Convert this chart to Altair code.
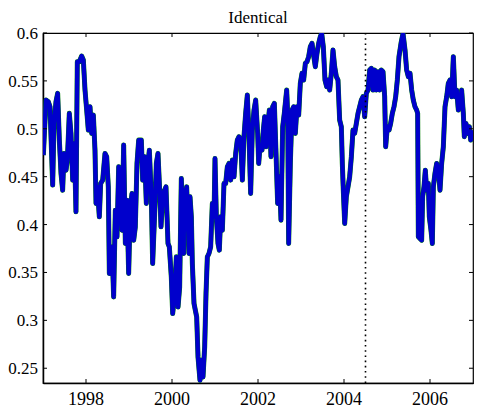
import altair as alt
import pandas as pd

title_text = "Identical"

years = [
    1997.008, 1997.070, 1997.124, 1997.163, 1997.225, 1997.256, 1997.302, 1997.341, 1997.380, 1997.419,
    1997.457, 1997.488, 1997.535, 1997.566, 1997.612, 1997.651, 1997.690, 1997.729, 1997.767, 1997.798,
    1997.845, 1997.899, 1997.938, 1997.977, 1998.016, 1998.054, 1998.093, 1998.132, 1998.171, 1998.209,
    1998.233, 1998.264, 1998.310, 1998.341, 1998.388, 1998.442, 1998.481, 1998.519, 1998.543, 1998.574,
    1998.605, 1998.643, 1998.682, 1998.721, 1998.760, 1998.798, 1998.837, 1998.876, 1998.915, 1998.953,
    1998.992, 1999.031, 1999.070, 1999.109, 1999.147, 1999.186, 1999.225, 1999.287, 1999.318, 1999.364,
    1999.403, 1999.442, 1999.473, 1999.519, 1999.550, 1999.597, 1999.636, 1999.674, 1999.713, 1999.744,
    1999.791, 1999.829, 1999.860, 1999.907, 1999.938, 1999.984, 2000.016, 2000.062, 2000.101, 2000.140,
    2000.178, 2000.217, 2000.248, 2000.271, 2000.279, 2000.318, 2000.341, 2000.372, 2000.395, 2000.419,
    2000.450, 2000.473, 2000.512, 2000.574, 2000.605, 2000.651, 2000.682, 2000.721, 2000.760, 2000.791,
    2000.822, 2000.860, 2000.899, 2000.938, 2000.977, 2001.000, 2001.031, 2001.070, 2001.101, 2001.132,
    2001.171, 2001.209, 2001.248, 2001.287, 2001.326, 2001.364, 2001.403, 2001.442, 2001.481, 2001.519,
    2001.558, 2001.597, 2001.636, 2001.674, 2001.713, 2001.752, 2001.791, 2001.829, 2001.868, 2001.907,
    2001.946, 2001.992, 2002.016, 2002.047, 2002.093, 2002.124, 2002.155, 2002.186, 2002.225, 2002.264,
    2002.302, 2002.341, 2002.380, 2002.419, 2002.457, 2002.496, 2002.535, 2002.574, 2002.612, 2002.667,
    2002.690, 2002.713, 2002.752, 2002.791, 2002.829, 2002.868, 2002.907, 2002.946, 2002.984, 2003.023,
    2003.062, 2003.101, 2003.140, 2003.178, 2003.217, 2003.256, 2003.287, 2003.333, 2003.372, 2003.411,
    2003.450, 2003.481, 2003.519, 2003.558, 2003.597, 2003.628, 2003.667, 2003.705, 2003.744, 2003.783,
    2003.822, 2003.860, 2003.899, 2003.938, 2003.961, 2003.984, 2004.016, 2004.054, 2004.093, 2004.132,
    2004.171, 2004.209, 2004.248, 2004.287, 2004.326, 2004.364, 2004.403, 2004.442, 2004.481, 2004.519,
    2004.558, 2004.597, 2004.636, 2004.674, 2004.713, 2004.752, 2004.791, 2004.829, 2004.868, 2004.907,
    2004.946, 2004.969, 2005.008, 2005.047, 2005.085, 2005.124, 2005.163, 2005.202, 2005.240, 2005.279,
    2005.326, 2005.372, 2005.419, 2005.457, 2005.496, 2005.535, 2005.574, 2005.612, 2005.651, 2005.690,
    2005.713, 2005.729, 2005.767, 2005.806, 2005.829, 2005.860, 2005.891, 2005.922, 2005.961, 2005.984,
    2006.023, 2006.054, 2006.078, 2006.116, 2006.155, 2006.194, 2006.233, 2006.271, 2006.310, 2006.349,
    2006.388, 2006.426, 2006.465, 2006.504, 2006.543, 2006.581, 2006.620, 2006.659, 2006.698, 2006.736,
    2006.775, 2006.798, 2006.837, 2006.876, 2006.915, 2006.946, 2006.984, 2007.000,
]

values = [
    0.4725, 0.5300, 0.5282, 0.5230, 0.4412, 0.5056, 0.5282, 0.5370, 0.4882, 0.4534,
    0.4359, 0.4743, 0.4568, 0.4673, 0.5161, 0.4952, 0.4464, 0.4847, 0.4133, 0.5700,
    0.5700, 0.5760, 0.5718, 0.5404, 0.5195, 0.4986, 0.5230, 0.4952, 0.5143, 0.4777,
    0.4220, 0.4394, 0.4081, 0.4429, 0.4464, 0.4743, 0.4708, 0.4394, 0.3489, 0.3767,
    0.3767, 0.3245, 0.4150, 0.3872, 0.4603, 0.4290, 0.3941, 0.4830, 0.3802, 0.4255,
    0.3489, 0.4185, 0.4325, 0.3837, 0.3976, 0.4638, 0.4882, 0.4882, 0.4464, 0.4708,
    0.4220, 0.4638, 0.4777, 0.4290, 0.3593, 0.4116, 0.4638, 0.4743, 0.4359, 0.3976,
    0.4325, 0.4359, 0.4394, 0.3802, 0.3767, 0.3454, 0.3071, 0.3280, 0.3663, 0.3140,
    0.3349, 0.4481, 0.4081, 0.3698, 0.4359, 0.4081, 0.4394, 0.4011, 0.3698, 0.4290,
    0.4081, 0.3593, 0.3175, 0.3036, 0.2618, 0.2374, 0.2583, 0.2409, 0.2722, 0.3280,
    0.3663, 0.3698, 0.3767, 0.4220, 0.4081, 0.4690, 0.4081, 0.3802, 0.3733, 0.4081,
    0.3941, 0.4429, 0.4429, 0.4603, 0.4638, 0.4464, 0.4673, 0.4499, 0.4743, 0.4882,
    0.4917, 0.4882, 0.4464, 0.4917, 0.5161, 0.5352, 0.4917, 0.4325, 0.4986, 0.5195,
    0.5300, 0.4952, 0.4638, 0.4812, 0.4777, 0.4986, 0.5126, 0.4812, 0.5021, 0.5195,
    0.4708, 0.5230, 0.5265, 0.4743, 0.4220, 0.4499, 0.4046, 0.5021, 0.5161, 0.5404,
    0.5161, 0.3802, 0.4638, 0.5195, 0.5230, 0.4952, 0.5230, 0.5143, 0.5474, 0.5579,
    0.5509, 0.5683, 0.5700, 0.5753, 0.5857, 0.5892, 0.5788, 0.5648, 0.5788, 0.5892,
    0.5962, 0.5997, 0.5857, 0.5509, 0.5439, 0.5509, 0.5404, 0.5579, 0.5822, 0.5648,
    0.5544, 0.5509, 0.5091, 0.5021, 0.4638, 0.4359, 0.4011, 0.4290, 0.4394, 0.4499,
    0.4708, 0.4986, 0.4952, 0.5056, 0.5161, 0.5230, 0.5300, 0.5335, 0.5126, 0.5370,
    0.5404, 0.5613, 0.5631, 0.5404, 0.5613, 0.5404, 0.5596, 0.5404, 0.5613, 0.5596,
    0.5335, 0.4812, 0.5021, 0.4986, 0.5056, 0.5161, 0.5230, 0.5335, 0.5509, 0.5753,
    0.5892, 0.5997, 0.5822, 0.5613, 0.5544, 0.5579, 0.5404, 0.5300, 0.5230, 0.5195,
    0.5161, 0.3872, 0.3854, 0.3837, 0.4290, 0.4394, 0.4568, 0.4359, 0.4429, 0.4081,
    0.3941, 0.3802, 0.4394, 0.4534, 0.4638, 0.4568, 0.4359, 0.4638, 0.4812, 0.5230,
    0.5335, 0.5474, 0.5509, 0.5335, 0.5753, 0.5335, 0.5404, 0.5195, 0.5230, 0.5404,
    0.5161, 0.4917, 0.5056, 0.4952, 0.5021, 0.4882, 0.4917, 0.4986,
]

x_ticks = [1998, 2000, 2002, 2004, 2006]
y_ticks = [0.25, 0.3, 0.35, 0.4, 0.45, 0.5, 0.55, 0.6]
marker_year = [2004.5]

W, H = 430, 350
FONT = "Times New Roman, Liberation Serif, DejaVu Serif, serif"

df = pd.DataFrame({"year": years, "value": values})
xs = alt.Scale(domain=[1997, 2007], nice=False, zero=False)
ys = alt.Scale(domain=[0.2346, 0.6], nice=False, zero=False)
xaxis = alt.Axis(values=x_ticks, labels=False, ticks=False, grid=False,
                 domainColor="black", domainWidth=1.5)
yaxis = alt.Axis(values=y_ticks, labels=False, ticks=False, grid=False,
                 domainColor="black", domainWidth=1.5)

def X(field):
    return alt.X(f"{field}:Q", scale=xs, axis=xaxis, title=None)

def Y(field):
    return alt.Y(f"{field}:Q", scale=ys, axis=yaxis, title=None)

green = alt.Chart(df).mark_line(color="#008000", strokeWidth=5, clip=True,
                                strokeJoin="round").encode(x=X("year"), y=Y("value"))
blue = alt.Chart(df).mark_line(color="#0000cc", strokeWidth=4.4, clip=True,
                               strokeJoin="round").encode(x=X("year"), y=Y("value"))

vline = alt.Chart(pd.DataFrame({"year": marker_year})).mark_rule(
    color="black", strokeWidth=1.6, strokeDash=[1.6, 3.6]
).encode(x=X("year"))

xt = pd.DataFrame({"year": x_ticks, "label": [str(v) for v in x_ticks]})
yt = pd.DataFrame({"value": y_ticks, "label": [f"{v:g}" for v in y_ticks]})

xtick_b = alt.Chart(xt).mark_rule(color="black", strokeWidth=1).encode(
    x=X("year"), y=alt.value(H), y2=alt.value(H - 4))
xtick_t = alt.Chart(xt).mark_rule(color="black", strokeWidth=1).encode(
    x=X("year"), y=alt.value(0), y2=alt.value(4))
ytick_l = alt.Chart(yt).mark_rule(color="black", strokeWidth=1).encode(
    y=Y("value"), x=alt.value(0), x2=alt.value(4))
ytick_r = alt.Chart(yt).mark_rule(color="black", strokeWidth=1).encode(
    y=Y("value"), x=alt.value(W), x2=alt.value(W - 4))

xlab = alt.Chart(xt).mark_text(font=FONT, fontSize=18, color="black", align="center",
                               baseline="alphabetic").encode(
    x=X("year"), y=alt.value(H + 22), text="label:N")
ylab = alt.Chart(yt).mark_text(font=FONT, fontSize=17, color="black", align="right",
                               baseline="middle", dy=1).encode(
    y=Y("value"), x=alt.value(-5), text="label:N")

title_mark = alt.Chart(pd.DataFrame({"t": [title_text]})).mark_text(
    font=FONT, fontSize=17, color="black", align="center", baseline="alphabetic"
).encode(text="t:N", x=alt.value(W / 2), y=alt.value(-10))

chart = alt.layer(green, blue, vline, xtick_b, xtick_t, ytick_l, ytick_r,
                  xlab, ylab, title_mark).properties(
    width=W, height=H,
    background="white",
    autosize=alt.AutoSizeParams(type="none"),
    padding={"left": 35, "top": 25, "right": 4, "bottom": 25},
).configure_view(stroke="black", strokeWidth=1.2)

chart.save("out.html", embed_options={"renderer": "svg", "actions": False})
